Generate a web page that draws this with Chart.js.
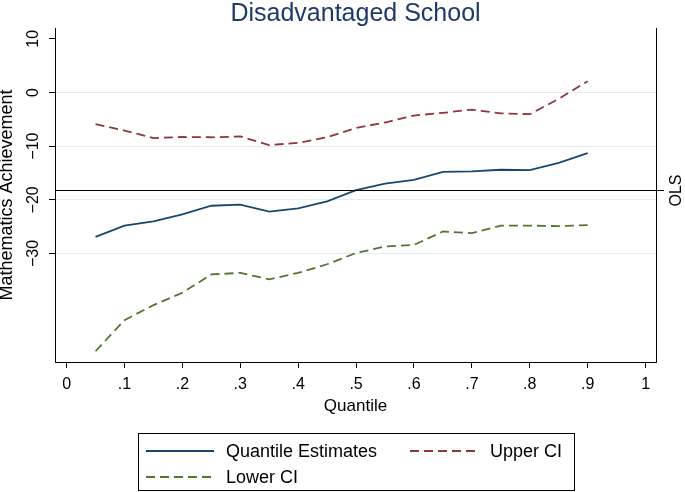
<!DOCTYPE html>
<html>
<head>
<meta charset="utf-8">
<script src="https://cdn.jsdelivr.net/npm/chart.js@4"></script>
<style>
  html, body { margin: 0; padding: 0; background: #fff; }
</style>
</head>
<body>
<canvas id="quantileChart" width="685" height="492"></canvas>
<script>
// values
const quantiles = [0.05, 0.1, 0.15, 0.2, 0.25, 0.3, 0.35, 0.4, 0.45, 0.5, 0.55, 0.6, 0.65, 0.7, 0.75, 0.8, 0.85, 0.9];
const estimates = [-26.9, -24.8, -24.0, -22.7, -21.1, -20.9, -22.2, -21.6, -20.3, -18.2, -17.0, -16.3, -14.8, -14.7, -14.4, -14.45, -13.1, -11.3];
const upperCI = [-5.9, -7.1, -8.5, -8.3, -8.35, -8.2, -9.8, -9.4, -8.35, -6.6, -5.6, -4.3, -3.8, -3.2, -3.9, -4.05, -1.2, 2.1];
const lowerCI = [-48.2, -42.4, -39.6, -37.3, -33.9, -33.6, -34.8, -33.6, -32.0, -29.9, -28.7, -28.4, -25.9, -26.2, -24.8, -24.8, -24.9, -24.7];
const olsValue = -18.2;

const yTickValues = [10, 0, -10, -20, -30];
const xTickValues = [0, 0.1, 0.2, 0.3, 0.4, 0.5, 0.6, 0.7, 0.8, 0.9, 1];
const xTickLabels = ['0', '.1', '.2', '.3', '.4', '.5', '.6', '.7', '.8', '.9', '1'];

const FONT = "'Liberation Sans', Arial, Helvetica, sans-serif";

function toPoints(values) {
    return quantiles.map((q, i) => ({ x: q, y: values[i] }));
}

// title, right frame line, OLS reference line, rotated y labels and boxed legend
const stataExtras = {
    id: 'stataExtras',
    afterDatasetsDraw(chart) {
        const ctx = chart.ctx;
        const area = chart.chartArea;
        const yScale = chart.scales.y;
        ctx.save();

        ctx.fillStyle = '#1f3a68';
        ctx.font = '25px ' + FONT;
        ctx.textAlign = 'center';
        ctx.textBaseline = 'alphabetic';
        ctx.fillText('Disadvantaged School', (area.left + area.right) / 2, 21);

        ctx.strokeStyle = '#000';
        ctx.lineWidth = 1;
        ctx.beginPath();
        ctx.moveTo(area.right + 0.5, area.top);
        ctx.lineTo(area.right + 0.5, area.bottom);
        ctx.stroke();

        const olsY = Math.round(yScale.getPixelForValue(olsValue)) + 0.5;
        ctx.beginPath();
        ctx.moveTo(area.left, olsY);
        ctx.lineTo(area.right + 8, olsY);
        ctx.stroke();

        ctx.fillStyle = '#000';
        ctx.font = '16px ' + FONT;
        ctx.textBaseline = 'middle';
        ctx.save();
        ctx.translate(677, olsY);
        ctx.rotate(-Math.PI / 2);
        ctx.fillText('OLS', 0, 0);
        ctx.restore();

        yTickValues.forEach(v => {
            ctx.save();
            ctx.translate(34, yScale.getPixelForValue(v));
            ctx.rotate(-Math.PI / 2);
            ctx.fillText(String(v).replace('-', '\u2212'), 0, 0);
            ctx.restore();
        });

        // legend box
        const box = { x: 138.5, y: 433.5, w: 436, h: 57 };
        ctx.strokeRect(box.x, box.y, box.w, box.h);
        const slots = [
            { lx: 146, tx: 226, y: 451 },
            { lx: 410, tx: 490, y: 451 },
            { lx: 146, tx: 226, y: 477 }
        ];
        ctx.font = '18px ' + FONT;
        ctx.textAlign = 'left';
        chart.data.datasets.forEach((ds, k) => {
            const s = slots[k];
            ctx.strokeStyle = ds.borderColor;
            ctx.lineWidth = ds.borderWidth;
            ctx.setLineDash(ds.borderDash || []);
            ctx.beginPath();
            ctx.moveTo(s.lx, s.y);
            ctx.lineTo(s.lx + 68, s.y);
            ctx.stroke();
            ctx.setLineDash([]);
            ctx.fillStyle = '#000';
            ctx.fillText(ds.label, s.tx, s.y + 1);
        });

        ctx.restore();
    }
};

new Chart(document.getElementById('quantileChart').getContext('2d'), {
    type: 'line',
    data: {
        datasets: [{
            label: 'Quantile Estimates',
            data: toPoints(estimates),
            borderColor: '#1a476f',
            borderWidth: 1.8,
            pointRadius: 0
        }, {
            label: 'Upper CI',
            data: toPoints(upperCI),
            borderColor: '#90353b',
            borderWidth: 1.8,
            borderDash: [9, 5],
            pointRadius: 0
        }, {
            label: 'Lower CI',
            data: toPoints(lowerCI),
            borderColor: '#55752f',
            borderWidth: 1.8,
            borderDash: [9, 5],
            pointRadius: 0
        }]
    },
    options: {
        responsive: false,
        animation: false,
        layout: {
            padding: { top: 28, right: 29, bottom: 74, left: 0 }
        },
        plugins: {
            legend: { display: false },
            title: { display: false },
            tooltip: { enabled: false }
        },
        scales: {
            x: {
                type: 'linear',
                min: -0.02,
                max: 1.018,
                afterBuildTicks: scale => {
                    scale.ticks = xTickValues.map(v => ({ value: v }));
                },
                afterFit: scale => { scale.height = 56; },
                ticks: {
                    callback: (value, index) => xTickLabels[index],
                    autoSkip: false,
                    maxRotation: 0,
                    padding: 7,
                    color: '#000',
                    font: { family: FONT, size: 16 }
                },
                grid: {
                    drawOnChartArea: false,
                    tickLength: 6,
                    tickColor: '#000'
                },
                border: { color: '#000', width: 1 },
                title: {
                    display: true,
                    text: 'Quantile',
                    color: '#000',
                    font: { family: FONT, size: 17 },
                    padding: { top: 0, bottom: 1 }
                }
            },
            y: {
                min: -50.2,
                max: 12,
                afterBuildTicks: scale => {
                    scale.ticks = yTickValues.map(v => ({ value: v }));
                },
                afterFit: scale => { scale.width = 55; },
                ticks: { display: false },
                grid: {
                    color: c => (c.tick && c.tick.value === 10) ? 'rgba(0,0,0,0)' : '#e3edf1',
                    tickColor: '#000',
                    tickLength: 6
                },
                border: { color: '#000', width: 1 },
                title: {
                    display: true,
                    text: 'Mathematics Achievement',
                    color: '#000',
                    font: { family: FONT, size: 18 },
                    padding: { top: -4, bottom: 0 }
                }
            }
        }
    },
    plugins: [stataExtras]
});
</script>
</body>
</html>
